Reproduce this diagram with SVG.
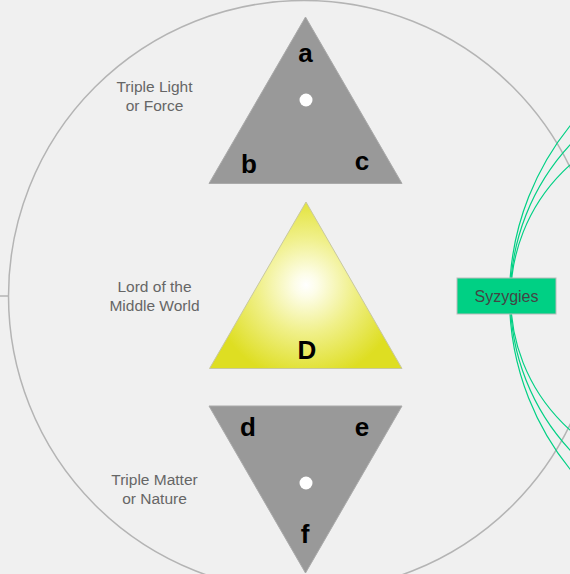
<svg xmlns="http://www.w3.org/2000/svg" width="570" height="574" viewBox="0 0 570 574">
<defs>
<radialGradient id="glow" gradientUnits="userSpaceOnUse" cx="306" cy="285" r="95">
<stop offset="0" stop-color="#ffffff"/>
<stop offset="0.12" stop-color="#fdfde8"/>
<stop offset="0.5" stop-color="#f0f08a"/>
<stop offset="1" stop-color="#dede22"/>
</radialGradient>
<style>
.tri{fill:#999999;stroke:#aaaaaa;stroke-width:1}
.letter{font-family:"Liberation Sans",Arial,sans-serif;font-weight:bold;font-size:26px;fill:#000;text-anchor:middle}
.lbl{font-family:"Liberation Sans",Arial,sans-serif;font-size:15.5px;fill:#666666;text-anchor:middle}
.dot{fill:#ffffff}
.arc{fill:none;stroke:#00d084;stroke-width:1.2}
</style>
</defs>
<rect x="0" y="0" width="570" height="574" fill="#f0f0f0"/>
<g id="outer-circle">
<circle cx="304" cy="296" r="295.5" fill="none" stroke="#b4b4b4" stroke-width="1.5"/>
</g>
<g id="connectors">
<line x1="0" y1="296" x2="8.5" y2="296" stroke="#b4b4b4" stroke-width="1.5"/>
<circle class="arc" cx="783" cy="297.5" r="273.5"/>
<circle class="arc" cx="735" cy="297.5" r="224.7"/>
<circle class="arc" cx="688.3" cy="297.5" r="177.6"/>
</g>
<g id="triple-light">
<polygon class="tri" points="305.5,17 209,183.5 402,183.5"/>
<circle class="dot" cx="306" cy="100" r="6.5"/>
<text class="letter" x="305.5" y="62">a</text>
<text class="letter" x="249" y="173">b</text>
<text class="letter" x="362" y="170">c</text>
</g>
<g id="lord">
<polygon points="306,202 209.5,368.5 402,368.5" fill="url(#glow)" stroke="#c8c8a0" stroke-width="1"/>
<text class="letter" x="307" y="359">D</text>
</g>
<g id="triple-matter">
<polygon class="tri" points="209,406 402,406 305.5,573"/>
<circle class="dot" cx="306" cy="483" r="6.5"/>
<text class="letter" x="248" y="436">d</text>
<text class="letter" x="362" y="436">e</text>
<text class="letter" x="305" y="543">f</text>
</g>
<g id="label-light">
<text class="lbl" x="154.5" y="91.5">Triple Light</text>
<text class="lbl" x="154.5" y="110.5">or Force</text>
</g>
<g id="label-lord">
<text class="lbl" x="154.5" y="291.5">Lord of the</text>
<text class="lbl" x="154.5" y="311">Middle World</text>
</g>
<g id="label-matter">
<text class="lbl" x="154.5" y="485">Triple Matter</text>
<text class="lbl" x="154.5" y="504">or Nature</text>
</g>
<g id="syzygies">
<rect x="457" y="278" width="99" height="36" fill="#00d084" stroke="#bbbbbb" stroke-width="1"/>
<text x="506.5" y="301.5" font-family="'Liberation Sans',Arial,sans-serif" font-size="16px" fill="#444444" text-anchor="middle">Syzygies</text>
</g>
</svg>
